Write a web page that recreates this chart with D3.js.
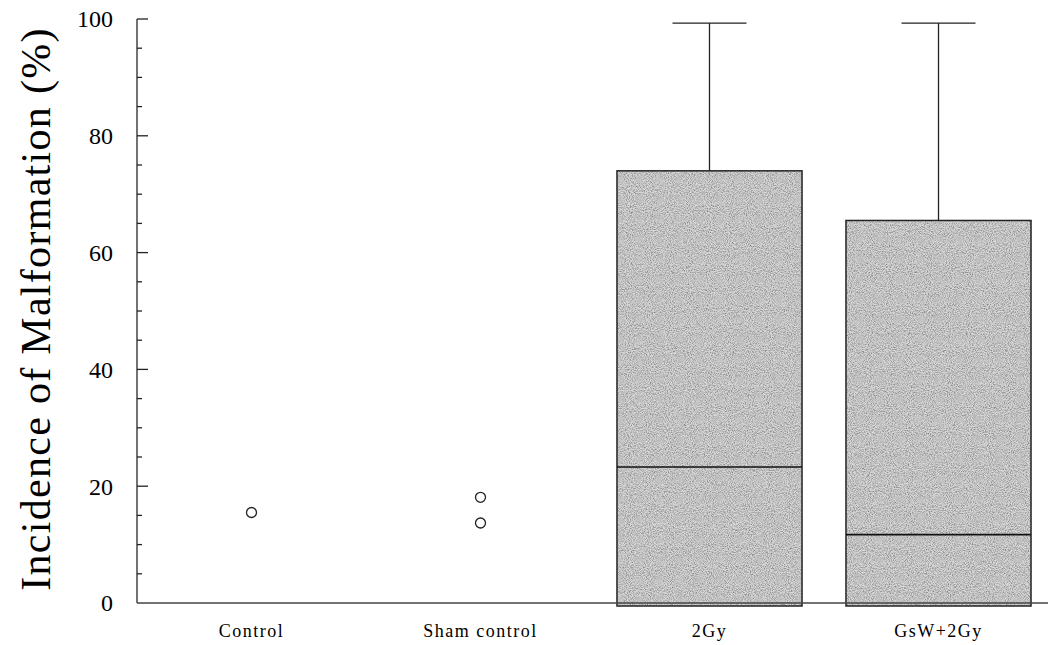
<!DOCTYPE html>
<html>
<head>
<meta charset="utf-8">
<script src="https://cdn.jsdelivr.net/npm/d3@7"></script>
<style>
  body { margin: 0; background: #fff; }
  svg { display: block; }
</style>
</head>
<body>
<div id="chart"></div>
<script>
// groups and box statistics (incidence %)
var categories = ["Control", "Sham control", "2Gy", "GsW+2Gy"];
var boxLow    = [null, null, 0, 0];
var boxMedian = [null, null, 23.3, 11.7];
var boxHigh   = [null, null, 74, 65.5];
var whiskerHigh = [null, null, 99.3, 99.3];
var outliers  = [[15.5], [18.1, 13.7], [], []];
var yTicks = [0, 20, 40, 60, 80, 100];

var w = 1048, h = 645;
var x0 = 137, x1 = 1053, yTop = 19, yBottom = 603;
var serif = "'Liberation Serif', 'DejaVu Serif', serif";

var svg = d3.select("#chart").append("svg")
    .attr("width", w)
    .attr("height", h);

// grainy grey fill, like the scanned stipple
var f = svg.append("defs").append("filter")
    .attr("id", "grain")
    .attr("x", 0).attr("y", 0).attr("width", 1).attr("height", 1);
f.append("feTurbulence")
    .attr("type", "fractalNoise")
    .attr("baseFrequency", 0.95)
    .attr("numOctaves", 2)
    .attr("seed", 7)
    .attr("result", "noise");
f.append("feColorMatrix")
    .attr("in", "noise")
    .attr("type", "matrix")
    .attr("values", "0 0 0 0 0.25  0 0 0 0 0.25  0 0 0 0 0.25  2.2 0 0 0 -0.75")
    .attr("result", "dots");
f.append("feComposite")
    .attr("in", "dots")
    .attr("in2", "SourceGraphic")
    .attr("operator", "in")
    .attr("result", "dots2");
var merge = f.append("feMerge");
merge.append("feMergeNode").attr("in", "SourceGraphic");
merge.append("feMergeNode").attr("in", "dots2");

var x = d3.scaleBand().domain(categories).range([x0, x1]).padding(0);
var y = d3.scaleLinear().domain([0, 100]).range([yBottom, yTop]);

var boxW = x.bandwidth() * 0.808;
var capW = boxW * 0.4;

var rows = categories.map(function(c, i) {
    return { cat: c, lo: boxLow[i], med: boxMedian[i], hi: boxHigh[i], wh: whiskerHigh[i], out: outliers[i] };
});
var boxed = rows.filter(function(d) { return d.hi != null; });

function mid(d) { return x(d.cat) + x.bandwidth() / 2; }

var g = svg.append("g");

g.selectAll("line.whisker")
    .data(boxed)
    .enter()
    .append("line")
    .attr("class", "whisker")
    .attr("x1", mid)
    .attr("x2", mid)
    .attr("y1", function(d) { return y(d.hi); })
    .attr("y2", function(d) { return y(d.wh); })
    .style("stroke", "#222")
    .style("stroke-width", 1.3);

g.selectAll("line.cap")
    .data(boxed)
    .enter()
    .append("line")
    .attr("class", "cap")
    .attr("x1", function(d) { return mid(d) - capW / 2; })
    .attr("x2", function(d) { return mid(d) + capW / 2; })
    .attr("y1", function(d) { return y(d.wh); })
    .attr("y2", function(d) { return y(d.wh); })
    .style("stroke", "#222")
    .style("stroke-width", 1.3);

g.selectAll("rect.fill")
    .data(boxed)
    .enter()
    .append("rect")
    .attr("class", "fill")
    .attr("x", function(d) { return mid(d) - boxW / 2; })
    .attr("width", boxW)
    .attr("y", function(d) { return y(d.hi); })
    .attr("height", function(d) { return y(d.lo) - y(d.hi) + 3; })
    .style("fill", "#d8d8d8")
    .attr("filter", "url(#grain)");

g.selectAll("rect.box")
    .data(boxed)
    .enter()
    .append("rect")
    .attr("class", "box")
    .attr("x", function(d) { return mid(d) - boxW / 2; })
    .attr("width", boxW)
    .attr("y", function(d) { return y(d.hi); })
    .attr("height", function(d) { return y(d.lo) - y(d.hi) + 3; })
    .style("fill", "none")
    .style("stroke", "#222")
    .style("stroke-width", 1.5);

g.selectAll("line.median")
    .data(boxed)
    .enter()
    .append("line")
    .attr("class", "median")
    .attr("x1", function(d) { return mid(d) - boxW / 2; })
    .attr("x2", function(d) { return mid(d) + boxW / 2; })
    .attr("y1", function(d) { return y(d.med); })
    .attr("y2", function(d) { return y(d.med); })
    .style("stroke", "#111")
    .style("stroke-width", 1.6);

// outlier circles
var pts = [];
rows.forEach(function(d) {
    d.out.forEach(function(v) { pts.push({ cat: d.cat, v: v }); });
});
g.selectAll("circle")
    .data(pts)
    .enter()
    .append("circle")
    .attr("cx", mid)
    .attr("cy", function(d) { return y(d.v); })
    .attr("r", 5)
    .style("fill", "#fff")
    .style("stroke", "#222")
    .style("stroke-width", 1.3);

// y axis, ticks pointing inwards
var yAxis = svg.append("g").attr("transform", "translate(" + x0 + ",0)");
yAxis.append("line")
    .attr("x1", 0).attr("x2", 0)
    .attr("y1", y(100)).attr("y2", y(0))
    .style("stroke", "#444")
    .style("stroke-width", 1.5);

yAxis.selectAll("line.minor")
    .data(d3.range(5, 100, 5).filter(function(v) { return v % 20 != 0; }))
    .enter()
    .append("line")
    .attr("class", "minor")
    .attr("x1", 0).attr("x2", 5)
    .attr("y1", function(d) { return y(d); })
    .attr("y2", function(d) { return y(d); })
    .style("stroke", "#222")
    .style("stroke-width", 1.3);

yAxis.selectAll("line.major")
    .data(yTicks.filter(function(v) { return v > 0; }))
    .enter()
    .append("line")
    .attr("class", "major")
    .attr("x1", 0).attr("x2", 11)
    .attr("y1", function(d) { return y(d); })
    .attr("y2", function(d) { return y(d); })
    .style("stroke", "#222")
    .style("stroke-width", 1.3);

yAxis.selectAll("text")
    .data(yTicks)
    .enter()
    .append("text")
    .attr("x", -24)
    .attr("y", function(d) { return y(d); })
    .attr("dy", "0.35em")
    .attr("text-anchor", "end")
    .style("font-family", serif)
    .style("font-size", "24px")
    .text(function(d) { return d; });

// x axis baseline and group labels
svg.append("line")
    .attr("x1", x0).attr("x2", w)
    .attr("y1", y(0)).attr("y2", y(0))
    .style("stroke", "#444")
    .style("stroke-width", 1.5);

svg.selectAll("text.cat")
    .data(categories)
    .enter()
    .append("text")
    .attr("class", "cat")
    .attr("x", function(d) { return x(d) + x.bandwidth() / 2; })
    .attr("y", 637)
    .attr("text-anchor", "middle")
    .style("font-family", serif)
    .style("font-size", "18px")
    .style("letter-spacing", "1.5px")
    .text(function(d) { return d; });

// y axis title
svg.append("text")
    .attr("transform", "translate(50," + ((yTop + yBottom) / 2 - 2) + ") rotate(-90)")
    .attr("text-anchor", "middle")
    .style("font-family", serif)
    .style("font-size", "42px")
    .style("letter-spacing", "1.3px")
    .text("Incidence of Malformation (%)");
</script>
</body>
</html>
